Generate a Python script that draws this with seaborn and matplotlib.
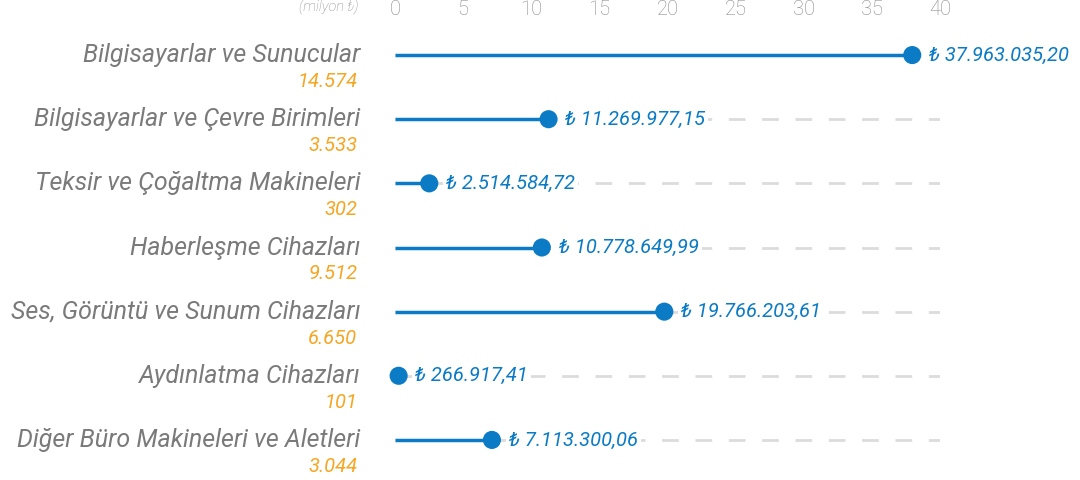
import matplotlib
import matplotlib.pyplot as plt
import pandas as pd
import seaborn as sns

matplotlib.use("Agg")
sns.set_theme(style="white")
plt.rcParams["font.family"] = ["Roboto", "DejaVu Sans"]

categories = [
    "Bilgisayarlar ve Sunucular",
    "Bilgisayarlar ve Çevre Birimleri",
    "Teksir ve Çoğaltma Makineleri",
    "Haberleşme Cihazları",
    "Ses, Görüntü ve Sunum Cihazları",
    "Aydınlatma Cihazları",
    "Diğer Büro Makineleri ve Aletleri",
]
amounts = [37963035.20, 11269977.15, 2514584.72, 10778649.99,
           19766203.61, 266917.41, 7113300.06]
counts = ["14.574", "3.533", "302", "9.512", "6.650", "101", "3.044"]
xticks = [0, 5, 10, 15, 20, 25, 30, 35, 40]

BLUE = "#0a7bc4"
ORANGE = "#f5a623"
GREY = "#7a7a7a"

df = pd.DataFrame({"cat": categories, "mil": [a / 1e6 for a in amounts],
                   "count": counts})
df["row"] = range(len(df))


def tr_money(v):
    s = f"{v:,.2f}"
    return s.replace(",", "X").replace(".", ",").replace("X", ".")


fig = plt.figure(figsize=(10.8, 4.8), dpi=100)
ax = fig.add_axes([395 / 1080, 8 / 480, 545 / 1080, 449 / 480])

# dashed background track and solid stem
ax.hlines(df["row"], 0, 40, colors="#dcdcdc", lw=2, linestyles=(0, (6, 6)), zorder=1)
ax.hlines(df["row"], 0, df["mil"], colors=BLUE, lw=2.5, zorder=2)
sns.scatterplot(data=df, x="mil", y="row", s=170, color=BLUE, edgecolor="none",
                ax=ax, zorder=3, legend=False, clip_on=False)

for r in df.itertuples():
    ax.annotate(f"₺ {tr_money(r.mil * 1e6)}", (r.mil, r.row), xytext=(12, 0),
                textcoords="offset points", va="center", ha="left", color=BLUE,
                fontsize=14.5, style="italic",
                bbox=dict(boxstyle="square,pad=0.15", fc="white", ec="none"),
                zorder=4, annotation_clip=False)
    ax.annotate(r.cat, (0, r.row), xytext=(-25, 0), textcoords="offset points",
                ha="right", va="center", color=GREY, fontsize=18, style="italic",
                annotation_clip=False)
    ax.annotate(r.count, (0, r.row), xytext=(-27, -19), textcoords="offset points",
                ha="right", va="center", color=ORANGE, fontsize=14.5, style="italic",
                annotation_clip=False)

ax.set_xlim(0, 40)
ax.set_ylim(len(df) - 0.5, -0.5)
ax.set_xticks(xticks)
ax.set_yticks([])
ax.xaxis.tick_top()
ax.tick_params(axis="x", length=0, pad=3, labelsize=14.5, labelcolor="#8a8a8a")
for lab in ax.get_xticklabels():
    lab.set_fontweight("light")
ax.set_xlabel("")
ax.set_ylabel("")
sns.despine(ax=ax, left=True, bottom=True)
ax.spines["top"].set_visible(False)
ax.annotate("(milyon ₺)", (0, 1), xycoords="axes fraction", xytext=(-26, 11),
            textcoords="offset points", ha="right", va="center", fontsize=10.5,
            style="italic", color="#8a8a8a", fontweight="light")

fig.savefig("out.png", dpi=100)
